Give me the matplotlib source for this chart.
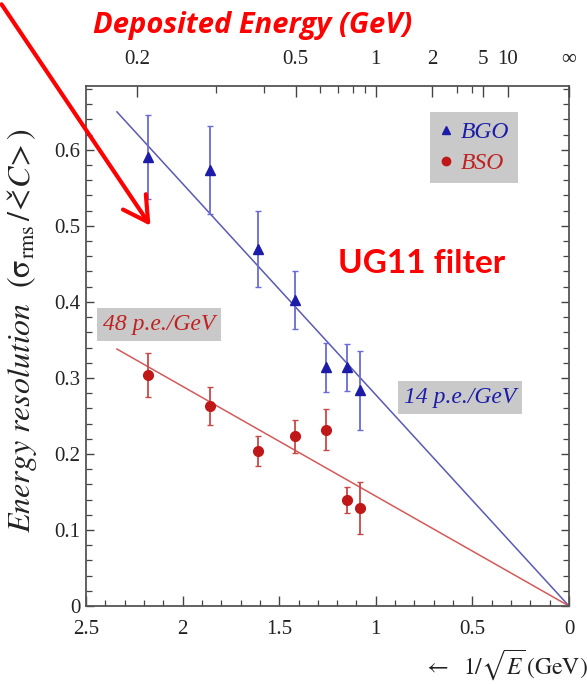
import numpy as np
import matplotlib
matplotlib.use("Agg")
import matplotlib.pyplot as plt
from matplotlib.patches import FancyArrowPatch
from matplotlib.lines import Line2D
from matplotlib.ticker import MultipleLocator

plt.rcParams['font.family'] = ['Liberation Serif', 'DejaVu Serif']
plt.rcParams['mathtext.fontset'] = 'stix'

# ---- data ----
bgo_x = [2.18, 1.86, 1.61, 1.42, 1.26, 1.15, 1.08]
bgo_y = [0.591, 0.573, 0.470, 0.403, 0.314, 0.314, 0.284]
bgo_err = [0.055, 0.058, 0.050, 0.038, 0.032, 0.031, 0.052]

bso_x = [2.18, 1.86, 1.61, 1.42, 1.26, 1.15, 1.08]
bso_y = [0.304, 0.263, 0.204, 0.223, 0.232, 0.139, 0.129]
bso_err = [0.029, 0.025, 0.020, 0.022, 0.027, 0.017, 0.034]

fit_x = [2.34, 0.0]
bgo_fit = [0.650, 0.0]
bso_fit = [0.338, 0.0]

energy_ticks = [0.2, 0.5, 1, 2, 5, 10]
energy_labels = ["0.2", "0.5", "1", "2", "5", "10"]
energy_minor = [0.3, 0.4, 0.6, 0.7, 0.8, 0.9, 3, 4]

W, H = 587, 684
fig = plt.figure(figsize=(W / 100, H / 100), dpi=100)
ax = fig.add_axes([86 / W, 1 - 606 / H, (569 - 86) / W, (606 - 86) / H])

blue_line = '#5a5ab4'
blue_pt = '#1c1ca8'
blue_err = '#6a6ad8'
red_line = '#d45a5a'
red_pt = '#c01818'
red_err = '#c84848'

ax.plot(fit_x, bgo_fit, color=blue_line, lw=1.1, zorder=2)
ax.plot(fit_x, bso_fit, color=red_line, lw=1.1, zorder=2)

ax.errorbar(bgo_x, bgo_y, yerr=bgo_err, fmt='^', color=blue_pt, ecolor=blue_err,
            elinewidth=1.3, capsize=2.5, capthick=1.0, markersize=7, zorder=3)
ax.errorbar(bso_x, bso_y, yerr=bso_err, fmt='o', color=red_pt, ecolor=red_err,
            elinewidth=1.3, capsize=2.5, capthick=1.0, markersize=7, zorder=3)

tick_font = dict(family='Liberation Serif', size=15)

ax.set_xlim(2.5, 0)
ax.set_ylim(0, 0.684)
ax.set_xticks([2.5, 2, 1.5, 1, 0.5, 0])
ax.set_xticklabels(["2.5", "2", "1.5", "1", "0.5", "0"], fontdict=tick_font)
ax.xaxis.set_minor_locator(MultipleLocator(0.1))
ax.set_yticks([0, 0.1, 0.2, 0.3, 0.4, 0.5, 0.6])
ax.set_yticklabels(["0", "0.1", "0.2", "0.3", "0.4", "0.5", "0.6"], fontdict=tick_font)
ax.yaxis.set_minor_locator(MultipleLocator(0.02))
ax.tick_params(axis='both', which='both', direction='in', colors='#444444',
               labelcolor='#222222')
ax.tick_params(axis='x', which='major', length=7, width=1.0, pad=10, bottom=True, top=False)
ax.tick_params(axis='x', which='minor', length=4, width=0.9, bottom=True, top=False)
ax.tick_params(axis='y', which='major', length=6, width=1.0, pad=4, left=True, right=True)
ax.tick_params(axis='y', which='minor', length=4, width=0.9, left=True, right=True)
for s in ax.spines.values():
    s.set_color('#555555')
    s.set_linewidth(1.3)

# top energy axis
axt = ax.twiny()
axt.set_xlim(ax.get_xlim())
top_pos = [1 / np.sqrt(e) for e in energy_ticks] + [0.0]
axt.set_xticks(top_pos)
axt.set_xticklabels(energy_labels + ["∞"], fontdict=tick_font)
axt.set_xticks([1 / np.sqrt(e) for e in energy_minor], minor=True)
axt.tick_params(axis='x', which='both', direction='in', colors='#444444',
                labelcolor='#222222')
axt.tick_params(axis='x', which='major', length=8, width=1.0, pad=12)
axt.tick_params(axis='x', which='minor', length=5, width=0.9)
for s in axt.spines.values():
    s.set_visible(False)

# labels
ax.set_ylabel(r"$\mathit{Energy\ resolution}\ \ (\mathrm{\sigma}_{\mathrm{rms}}\,/\!<\!\check{C}\!>)$",
              fontsize=23, color='#222222')
ax.yaxis.set_label_coords(-0.097, 0.53)
ax.text(0.868, -0.112, r"$\leftarrow\ \ \mathit{1/}\sqrt{\mathit{E}}\,\mathrm{(GeV)}$",
        transform=ax.transAxes, ha='center', va='center', fontsize=17, color='#222222')

# annotations in boxes
box = dict(boxstyle='square,pad=0.25', facecolor='#c9c9c9', edgecolor='none')
ax.text(2.12, 0.37, "48 p.e./GeV", fontsize=17, style='italic', color='#c02020',
        ha='center', va='center', bbox=box)
ax.text(0.564, 0.274, "14 p.e./GeV", fontsize=17, style='italic', color='#1c1ca8',
        ha='center', va='center', bbox=box)

handles = [Line2D([], [], marker='^', ls='none', color=blue_pt, markersize=6),
           Line2D([], [], marker='o', ls='none', color=red_pt, markersize=6)]
leg = ax.legend(handles, ["BGO", "BSO"], loc='upper right', bbox_to_anchor=(0.895, 0.95),
                frameon=True, fancybox=False, framealpha=1,
                facecolor='#c9c9c9', edgecolor='none', prop={'style': 'italic', 'size': 17},
                handlelength=0.6, handletextpad=0.3, borderpad=0.4, labelspacing=0.4,
                borderaxespad=0)
for t, c in zip(leg.get_texts(), ['#1c1ca8', '#c02020']):
    t.set_color(c)

# red overlay annotations
fig.text(253 / W, 1 - 25 / H, "Deposited Energy (GeV)", fontsize=21, fontweight='bold',
         style='italic', color='#ff0000', ha='center', va='center', family='Open Sans')
fig.text(422 / W, 1 - 263 / H, "UG11 filter", fontsize=24, fontweight='bold',
         color='#ff0000', ha='center', va='center', family='Lato')
arrow = FancyArrowPatch((0 / W, 1 - 2 / H), (152 / W, 1 - 228 / H),
                        transform=fig.transFigure, arrowstyle='->,head_length=8,head_width=4.5',
                        color='#ff0000', lw=3.0, mutation_scale=2.2)
fig.add_artist(arrow)

fig.savefig("out.png", dpi=100)
